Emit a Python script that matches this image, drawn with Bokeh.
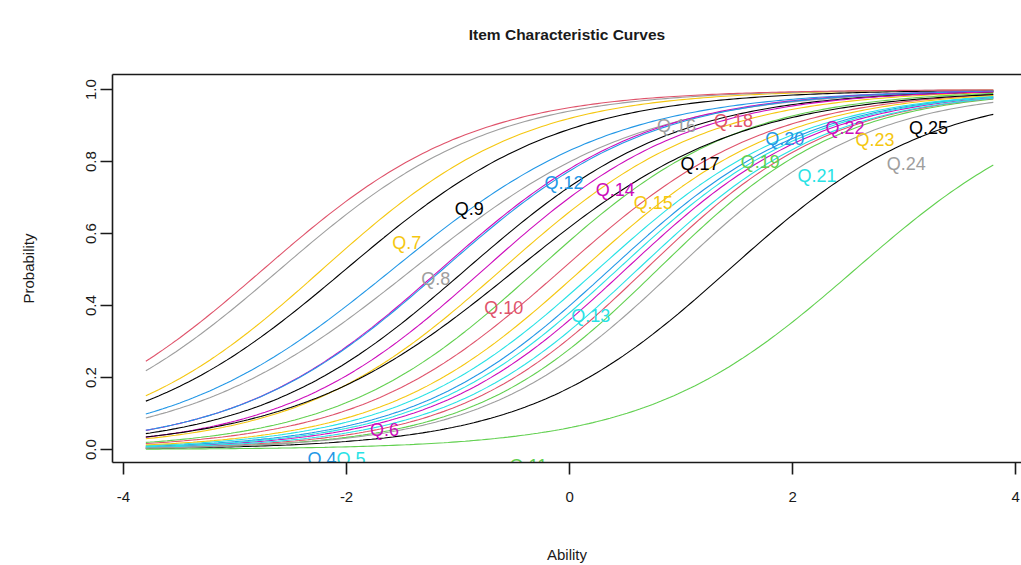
import numpy as np
from bokeh.plotting import figure
from bokeh.models import Range1d, LinearAxis, FixedTicker, PrintfTickFormatter, ColumnDataSource
from bokeh.embed import file_html
from bokeh.resources import INLINE
from bokeh.core.properties import value

# ---- data -----------------------------------------------------------------
items = ["Q.%d" % i for i in range(1, 26)]
# 2PL item parameters estimated from the curves (discrimination a, difficulty b)
discrimination = [1.10, 1.09, 1.20, 1.13, 1.11, 1.15, 1.10, 0.98, 1.04, 1.18,
                  1.07, 1.00, 1.14, 1.09, 1.09, 1.06, 1.07, 1.07, 1.11, 1.08,
                  1.16, 1.10, 1.11, 1.16, 1.00]
difficulty = [1.43, -0.07, 0.79, 0.36, 0.25, 0.50, -2.22, -1.41, -2.01, 0.68,
              2.56, -1.59, 0.43, -1.16, -0.61, -2.60, -0.93, -2.75, -0.29, -1.14,
              0.61, -0.77, 0.11, 0.95, -0.48]
# R default palette, recycled over the items
palette = ["#000000", "#DF536B", "#61D04F", "#2297E6",
           "#28E2E5", "#CD0BBC", "#F5C710", "#9E9E9E"]

label_items = ["Q.4", "Q.5", "Q.6", "Q.7", "Q.8", "Q.9", "Q.10", "Q.11", "Q.12",
               "Q.13", "Q.14", "Q.15", "Q.16", "Q.17", "Q.18", "Q.19", "Q.20",
               "Q.21", "Q.22", "Q.23", "Q.24", "Q.25"]
label_x = [-2.22, -1.96, -1.66, -1.46, -1.20, -0.90, -0.59, -0.37, -0.05,
           0.19, 0.41, 0.75, 0.96, 1.17, 1.47, 1.71, 1.93,
           2.22, 2.47, 2.74, 3.02, 3.22]
label_y = [-0.025, -0.025, 0.053, 0.575, 0.475, 0.667, 0.392, -0.045, 0.74,
           0.372, 0.72, 0.686, 0.90, 0.794, 0.914, 0.80, 0.864,
           0.76, 0.894, 0.86, 0.794, 0.894]

title_text = "Item Characteristic Curves"
ability_min, ability_max = -3.8, 3.8
x_ticks = [-4, -2, 0, 2, 4]
y_ticks = [0.0, 0.2, 0.4, 0.6, 0.8, 1.0]

FONT = "Liberation Sans"

p = figure(width=1021, height=565,
           x_range=Range1d(-4.099, 4.053), y_range=Range1d(-0.036, 1.042),
           output_backend="svg", toolbar_location=None,
           min_border_left=112, min_border_right=0,
           min_border_top=74, min_border_bottom=103,
           x_axis_label="Ability", y_axis_label="Probability")

p.grid.visible = False
p.outline_line_color = None
p.background_fill_color = "white"
p.border_fill_color = "white"

for ax in (p.xaxis[0], p.yaxis[0]):
    ax.axis_line_color = "#1a1a1a"
    ax.axis_line_width = 1.6
    ax.major_tick_line_color = "#1a1a1a"
    ax.major_tick_line_width = 1.6
    ax.major_tick_out = 12
    ax.major_tick_in = 0
    ax.minor_tick_line_color = None
    ax.major_label_text_font = FONT
    ax.major_label_text_font_size = "15px"
    ax.major_label_text_color = "#1a1a1a"
    ax.axis_label_text_font = FONT
    ax.axis_label_text_font_size = "15px"
    ax.axis_label_text_font_style = "normal"
    ax.axis_label_text_color = "#1a1a1a"

p.xaxis[0].ticker = FixedTicker(ticks=x_ticks)
p.xaxis[0].formatter = PrintfTickFormatter(format="%d")
p.xaxis[0].major_label_standoff = 17
p.xaxis[0].axis_label_standoff = 41

p.yaxis[0].ticker = FixedTicker(ticks=y_ticks)
p.yaxis[0].formatter = PrintfTickFormatter(format="%.1f")
p.yaxis[0].major_label_orientation = "vertical"
p.yaxis[0].major_label_standoff = 4
p.yaxis[0].axis_label_standoff = 47

# top border of the box; its label carries the chart title
top_axis = LinearAxis(ticker=FixedTicker(ticks=[]), axis_line_color="#1a1a1a",
                      axis_line_width=1.6, major_label_text_font_size="0px",
                      minor_tick_line_color=None, major_tick_line_color=None,
                      axis_label=title_text, axis_label_standoff=32,
                      axis_label_text_font=FONT, axis_label_text_font_style="bold",
                      axis_label_text_font_size="15.5px",
                      axis_label_text_color="#1a1a1a")
p.add_layout(top_axis, "above")

ability = np.linspace(ability_min, ability_max, 200)
for i, (a, b) in enumerate(zip(discrimination, difficulty)):
    prob = 1.0 / (1.0 + np.exp(-a * (ability - b)))
    p.line(ability, prob, line_color=palette[i % len(palette)], line_width=1.1)

label_colors = [palette[(items.index(n)) % len(palette)] for n in label_items]
src = ColumnDataSource(dict(x=label_x, y=label_y, text=label_items, color=label_colors))
p.text(x="x", y="y", text="text", source=src, text_color="color",
       text_font=value(FONT), text_font_size="18px",
       text_align="center", text_baseline="middle")

open("out.html", "w").write(file_html(p, INLINE))
